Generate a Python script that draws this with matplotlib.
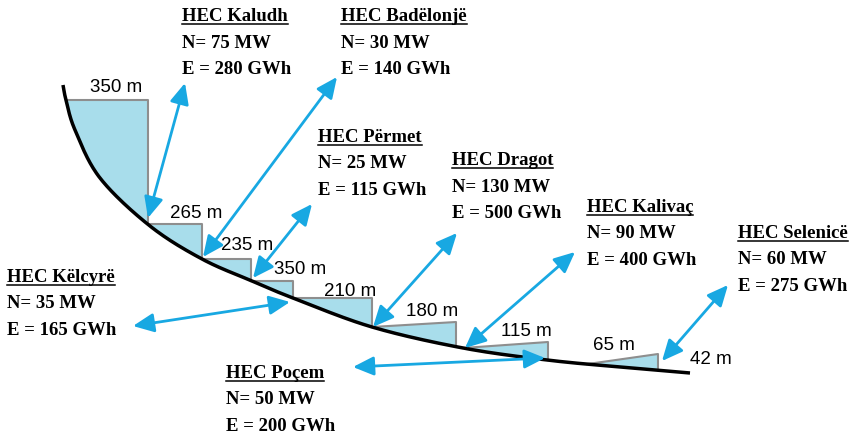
import numpy as np
import matplotlib
matplotlib.use('Agg')
import matplotlib.pyplot as plt

# station data
stations = ['Kaludh', 'Badëlonjë', 'Përmet', 'Dragot', 'Kalivaç', 'Selenicë', 'Këlcyrë', 'Poçem']
power_mw = [75, 30, 25, 130, 90, 60, 35, 50]
energy_gwh = [280, 140, 115, 500, 400, 275, 165, 200]

# elevations along the river (m)
heads_m = [350, 265, 235, 350, 210, 180, 115, 65, 42]

# layout (pixel coords, y down)
river_pts = [(63, 85), (66, 100), (75, 130), (100, 178), (150, 226), (202, 259),
             (252, 281), (293, 298), (372, 327), (463, 348), (547, 360),
             (620, 367), (690, 373)]
step_xl = [66, 148, 202, 251, 293, 372, 463, 587]
step_xr = [148, 202, 251, 293, 372, 456, 548, 658]
step_ytop = [None, None, None, None, None, 322, 342, 354]
head_pos = [(116, 88), (196, 214), (247, 246), (300, 269), (350, 292),
            (432, 312), (526, 331), (614, 345), (711, 359)]
block_pos = [(182, 21), (341, 21), (318, 142), (452, 165), (587, 212),
             (738, 238), (7, 282), (226, 378)]
arrow_pts = [((185, 83), (148, 218)), ((337, 77), (203, 257)), ((312, 204), (253, 278)),
             ((457, 233), (373, 327)), ((575, 252), (465, 348)), ((728, 285), (662, 361)),
             ((133, 326), (290, 302)), ((353, 367), (545, 358))]

blue = '#18A8E2'
fill = '#A8DDEB'
edge = '#8E8E8E'
sans = 'Liberation Sans'
serif = 'Liberation Serif'


def catmull(pts, n=30):
    pts = np.asarray(pts, float)
    p = np.vstack([2 * pts[0] - pts[1], pts, 2 * pts[-1] - pts[-2]])
    t = np.linspace(0, 1, n, endpoint=False)[:, None]
    out = []
    for i in range(1, len(p) - 2):
        p0, p1, p2, p3 = p[i - 1], p[i], p[i + 1], p[i + 2]
        out.append(0.5 * (2 * p1 + (-p0 + p2) * t + (2 * p0 - 5 * p1 + 4 * p2 - p3) * t ** 2
                          + (-p0 + 3 * p1 - 3 * p2 + p3) * t ** 3))
    out.append(pts[-1:])
    return np.vstack(out)


curve = catmull(river_pts)
cx, cy = curve[:, 0], curve[:, 1]


def ry(x):
    return np.interp(x, cx, cy)


fig = plt.figure(figsize=(8.57, 4.37), dpi=100)
ax = fig.add_axes([0, 0, 1, 1])
ax.set_xlim(0, 857)
ax.set_ylim(437, 0)
ax.axis('off')

# steps
for xl, xr, yt in zip(step_xl, step_xr, step_ytop):
    yl = ry(xl)
    if yt is None:
        yt = yl
    xs = np.linspace(xr, xl, 40)
    poly_x = [xl, xr] + list(xs)
    poly_y = [yl, yt] + list(ry(xs))
    ax.fill(poly_x, poly_y, color=fill, lw=0, zorder=1)
    ax.plot([xl, xr, xr], [yl, yt, ry(xr)], color=edge, lw=1.5, zorder=2)

ax.plot(cx, cy, color='black', lw=2.5, zorder=3, solid_capstyle='butt')

for h, (x, y) in zip(heads_m, head_pos):
    ax.text(x, y, f'{h} m', ha='center', va='center', family=sans, fontsize=13.5, zorder=4)

for (p1, p2) in arrow_pts:
    ax.annotate('', xy=p2, xytext=p1,
                arrowprops=dict(arrowstyle='<|-|>,head_length=0.7,head_width=0.32',
                                color=blue, lw=2, shrinkA=0, shrinkB=0, mutation_scale=18),
                zorder=5)

titles = []
for name, n, e, (x, y) in zip(stations, power_mw, energy_gwh, block_pos):
    t = ax.text(x, y, f'HEC {name}', ha='left', va='baseline', family=serif,
                fontweight='bold', fontsize=13.5)
    ax.text(x, y + 26.5, f'N= {n} MW', ha='left', va='baseline', family=serif,
            fontweight='bold', fontsize=13.5)
    ax.text(x, y + 53, f'E = {e} GWh', ha='left', va='baseline', family=serif,
            fontweight='bold', fontsize=13.5)
    titles.append((t, y))

# underline station names
fig.canvas.draw()
inv = ax.transData.inverted()
for t, y in titles:
    bb = t.get_window_extent()
    x0 = inv.transform((bb.x0, 0))[0]
    x1 = inv.transform((bb.x1, 0))[0]
    ax.plot([x0, x1], [y + 2.5, y + 2.5], color='black', lw=1.1)

fig.savefig('out.png', dpi=100)
